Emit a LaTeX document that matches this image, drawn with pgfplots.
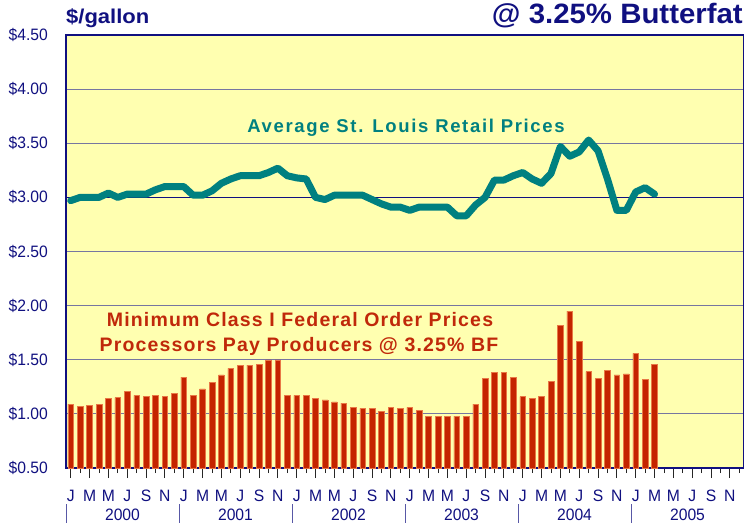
\documentclass[border=0pt]{standalone}
\usepackage{pgfplots}
\pgfplotsset{compat=1.18}
\usepackage{pgfplotstable}
\usepackage{fontspec}
\setmainfont{Liberation Sans}
\newfontfamily\narrowfont[FakeStretch=0.95]{Liberation Sans}
\newfontfamily\tealfont[LetterSpace=9]{Liberation Sans}
\newfontfamily\redfont[LetterSpace=6]{Liberation Sans}
\newfontfamily\widefont[FakeStretch=1.1]{Liberation Sans}
\newfontfamily\titlefont[FakeStretch=1.05]{Liberation Sans}
\definecolor{mynavy}{RGB}{16,16,128}
\definecolor{bgyellow}{RGB}{255,255,176}
\definecolor{gridc}{RGB}{118,118,160}
\definecolor{barred}{RGB}{196,36,0}
\definecolor{baredge}{RGB}{232,120,70}
\definecolor{tealc}{RGB}{0,128,128}
\definecolor{redtext}{RGB}{192,40,10}

\pgfplotstableread{
i val
0 1.09
1 1.07
2 1.08
3 1.09
4 1.14
5 1.15
6 1.21
7 1.17
8 1.16
9 1.17
10 1.16
11 1.19
12 1.34
13 1.17
14 1.23
15 1.29
16 1.36
17 1.42
18 1.45
19 1.45
20 1.46
21 1.50
22 1.50
23 1.17
24 1.17
25 1.17
26 1.14
27 1.13
28 1.11
29 1.10
30 1.06
31 1.05
32 1.05
33 1.02
34 1.06
35 1.05
36 1.06
37 1.03
38 0.98
39 0.98
40 0.98
41 0.98
42 0.98
43 1.09
44 1.33
45 1.38
46 1.38
47 1.34
48 1.16
49 1.14
50 1.16
51 1.30
52 1.82
53 1.95
54 1.67
55 1.39
56 1.33
57 1.40
58 1.36
59 1.37
60 1.56
61 1.32
62 1.46
}\federal

\pgfplotstableread{
i val
0 2.97
1 3.00
2 3.00
3 3.00
4 3.04
5 3.00
6 3.03
7 3.03
8 3.03
9 3.07
10 3.10
11 3.10
12 3.10
13 3.02
14 3.02
15 3.06
16 3.13
17 3.17
18 3.20
19 3.20
20 3.20
21 3.23
22 3.27
23 3.20
24 3.18
25 3.17
26 3.00
27 2.98
28 3.02
29 3.02
30 3.02
31 3.02
32 2.98
33 2.94
34 2.91
35 2.91
36 2.88
37 2.91
38 2.91
39 2.91
40 2.91
41 2.83
42 2.83
43 2.93
44 3.00
45 3.16
46 3.16
47 3.20
48 3.23
49 3.17
50 3.13
51 3.22
52 3.47
53 3.38
54 3.42
55 3.53
56 3.43
57 3.17
58 2.88
59 2.88
60 3.05
61 3.09
62 3.03
}\retail

\begin{document}
\begin{tikzpicture}[x=1pt,y=1pt]
\useasboundingbox (0,0) rectangle (744,523);
\clip (0,0) rectangle (744,523);
\begin{axis}[
  at={(66pt,55pt)}, anchor=south west,
  scale only axis, width=678pt, height=433pt,
  xmin=-0.5, xmax=71.5, ymin=0.5, ymax=4.5,
  axis background/.style={fill=bgyellow},
  axis line style={mynavy, line width=1.3pt},
  ymajorgrids, grid style={gridc, line width=1.1pt},
  ytick={0.5,1,1.5,2,2.5,3,3.5,4,4.5},
  yticklabels={\$0.50,\$1.00,\$1.50,\$2.00,\$2.50,\$3.00,\$3.50,\$4.00,\$4.50},
  yticklabel style={font=\narrowfont\fontsize{16.5}{17}\selectfont, text=mynavy, anchor=east, inner sep=0pt, xshift=-8pt},
  xtick={0,2,...,70}, minor xtick={1,3,...,71},
  xticklabels={},
  tick align=outside, xtick pos=bottom, ytick pos=left,
  major tick length=10pt, minor tick length=5pt,
  ytick style={draw=none},
  xtick style={black!85, line width=0.9pt},
  minor tick style={black!85, line width=0.9pt},
  clip=true,
]
\draw[mynavy, line width=0.9pt] (axis cs:-0.5,3) -- (axis cs:71.5,3);
\addplot[ybar, bar width=5.6pt, fill=barred, draw=baredge, line width=0.5pt] table[x=i,y=val] {\federal};
\addplot[tealc, line width=7pt, line join=round, line cap=round, mark=none] table[x=i,y=val] {\retail};
\end{axis}
% top title texts
\node[anchor=base west, inner sep=0pt, text=mynavy, font=\widefont\bfseries\fontsize{20}{22}\selectfont] at (66,499) {\$/gallon};
\node[anchor=base east, inner sep=0pt, text=mynavy, font=\titlefont\bfseries\fontsize{28}{30}\selectfont] at (743,499) {@ 3.25\% Butterfat};
% series labels
\node[anchor=base, inner sep=0pt, text=tealc, font=\tealfont\bfseries\fontsize{18.5}{20}\selectfont] at (406,390) {Average St. Louis Retail Prices};
\node[anchor=base, inner sep=0pt, text=redtext, font=\redfont\bfseries\fontsize{19.5}{21}\selectfont] at (300,197) {Minimum Class I Federal Order Prices};
\node[anchor=base, inner sep=0pt, text=redtext, font=\redfont\bfseries\fontsize{19.5}{21}\selectfont] at (299,172) {Processors Pay Producers @ 3.25\% BF};
% month labels
\foreach \yr in {0,...,5}{
  \foreach \m/\l in {0/J,2/M,4/M,6/J,8/S,10/N}{
    \node[anchor=base, inner sep=0pt, text=mynavy, font=\narrowfont\fontsize{16.5}{17}\selectfont] at ({66+(12*\yr+\m+0.5)*9.416667},22) {\l};
  }
  \node[anchor=base, inner sep=0pt, text=mynavy, font=\narrowfont\fontsize{16.5}{17}\selectfont] at ({66+(12*\yr+6)*9.416667},3) {\the\numexpr2000+\yr\relax};
  \draw[mynavy!70, line width=0.9pt] ({66+12*\yr*9.416667},19) -- ({66+12*\yr*9.416667},0);
}
\end{tikzpicture}
\end{document}
